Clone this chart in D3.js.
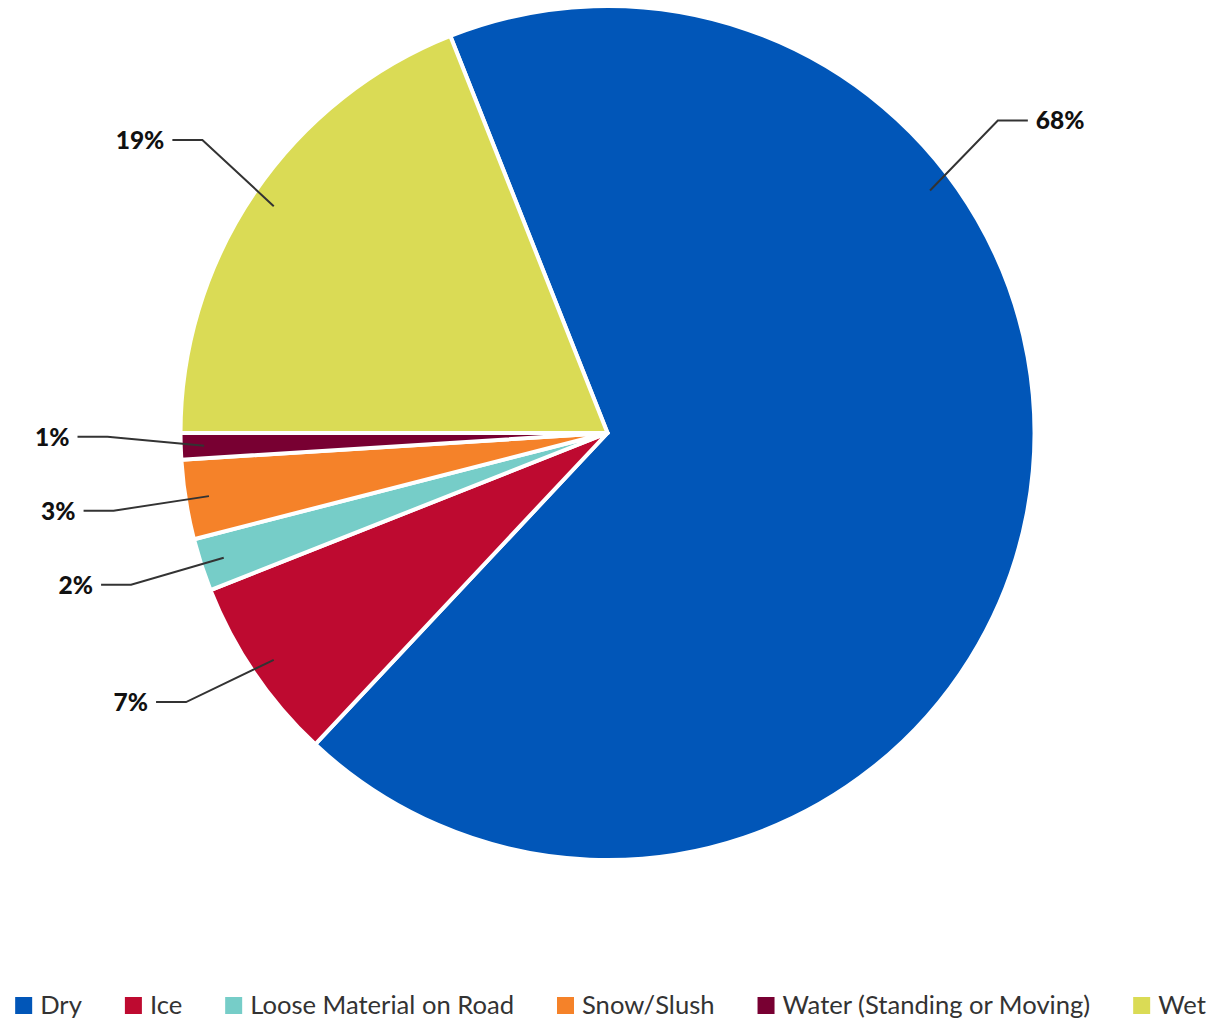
<!DOCTYPE html>
<html>
<head>
<meta charset="utf-8">
<script src="https://cdn.jsdelivr.net/npm/d3@7"></script>
<style>
  html, body { margin: 0; padding: 0; background: #ffffff; }
  svg { display: block; }
</style>
</head>
<body>
<svg id="chart" width="1221" height="1021"></svg>
<script>
// Road surface condition shares (percent)
const categories = ["Dry", "Ice", "Loose Material on Road", "Snow/Slush", "Water (Standing or Moving)", "Wet"];
const values = [68, 7, 2, 3, 1, 19];
const colors = ["#0156b8", "#be0a30", "#76cdc8", "#f58229", "#780032", "#dadb55"];
const labels = ["68%", "7%", "2%", "3%", "1%", "19%"];

// Layout
const W = 1221, H = 1021;
const cx = 607.5, cy = 433;
const radius = 427;
const startDeg = -21.6;
const anchorRatio = 0.945;      // where connectors touch the slice
const labelRadius = 500;        // circle the label elbows sit on
const labelLift = 12;           // label rows sit slightly above their natural height
const minGap = 74;              // minimum vertical spacing of labels on a side
// position of the connector anchor along each slice (0 = start, 1 = end)
const anchorAlong = [0.305, 0.5, 0.5, 0.5, 0.5, 0.5];

const svg = d3.select("#chart");
const g = svg.append("g").attr("transform", `translate(${cx},${cy})`);

const rows = categories.map((c, i) => ({ name: c, value: values[i], color: colors[i], label: labels[i], i }));

const pie = d3.pie()
  .sort(null)
  .value(d => d.value)
  .startAngle(startDeg * Math.PI / 180)
  .endAngle(startDeg * Math.PI / 180 + 2 * Math.PI);

const arcs = pie(rows);
const arc = d3.arc().innerRadius(0).outerRadius(radius);

g.selectAll("path.slice")
  .data(arcs)
  .join("path")
  .attr("class", "slice")
  .attr("d", arc)
  .attr("fill", d => d.data.color)
  .attr("stroke", "#ffffff")
  .attr("stroke-width", 4)
  .attr("stroke-linejoin", "round");

// Label placement: anchor on slice, elbow on an outer circle, relaxed vertically per side
const placed = arcs.map(d => {
  const t = anchorAlong[d.data.i];
  const a = d.startAngle + (d.endAngle - d.startAngle) * t;
  const ax = Math.sin(a) * radius * anchorRatio;
  const ay = -Math.cos(a) * radius * anchorRatio;
  const side = Math.sin(a) >= 0 ? 1 : -1;
  const ey = -Math.cos(a) * labelRadius - labelLift;
  return { d, a, ax, ay, side, ey };
});

[1, -1].forEach(side => {
  const group = placed.filter(p => p.side === side).sort((p, q) => p.ey - q.ey);
  for (let k = 1; k < group.length; k++) {
    if (group[k].ey - group[k - 1].ey < minGap) group[k].ey = group[k - 1].ey + minGap;
  }
});

placed.forEach(p => {
  const dx = Math.sqrt(Math.max(0, labelRadius * labelRadius - p.ey * p.ey));
  p.ex = p.side * dx;
  p.lx = p.ex + p.side * 30;
});

const line = d3.line();
g.selectAll("path.connector")
  .data(placed)
  .join("path")
  .attr("class", "connector")
  .attr("d", p => line([[p.ax, p.ay], [p.ex, p.ey], [p.lx, p.ey]]))
  .attr("fill", "none")
  .attr("stroke", "#333333")
  .attr("stroke-width", 2);

g.selectAll("text.value")
  .data(placed)
  .join("text")
  .attr("class", "value")
  .attr("x", p => p.lx + p.side * 8)
  .attr("y", p => p.ey)
  .attr("dy", "0.36em")
  .attr("text-anchor", p => p.side > 0 ? "start" : "end")
  .attr("font-family", "Lato, 'Open Sans', sans-serif")
  .attr("font-weight", 900)
  .attr("font-size", 24.5)
  .attr("fill", "#111111")
  .text(p => p.d.data.label);

// Legend: one centred row along the bottom
const legendY = 1014;
const sw = 17, textGap = 8, itemGap = 43;
const legend = svg.append("g");
const items = legend.selectAll("g.item")
  .data(rows)
  .join("g")
  .attr("class", "item");

items.append("rect")
  .attr("width", sw)
  .attr("height", sw)
  .attr("y", legendY - sw)
  .attr("fill", d => d.color);

items.append("text")
  .attr("x", sw + textGap)
  .attr("y", legendY)
  .attr("font-family", "Lato, 'Open Sans', sans-serif")
  .attr("font-size", 25.6)
  .attr("fill", "#333333")
  .text(d => d.name);

const widths = [];
items.each(function () {
  widths.push(sw + textGap + d3.select(this).select("text").node().getComputedTextLength());
});
const total = d3.sum(widths) + itemGap * (widths.length - 1);
let xPos = (W - total) / 2;
items.attr("transform", (d, i) => {
  const x = xPos;
  xPos += widths[i] + itemGap;
  return `translate(${x},0)`;
});
</script>
</body>
</html>
